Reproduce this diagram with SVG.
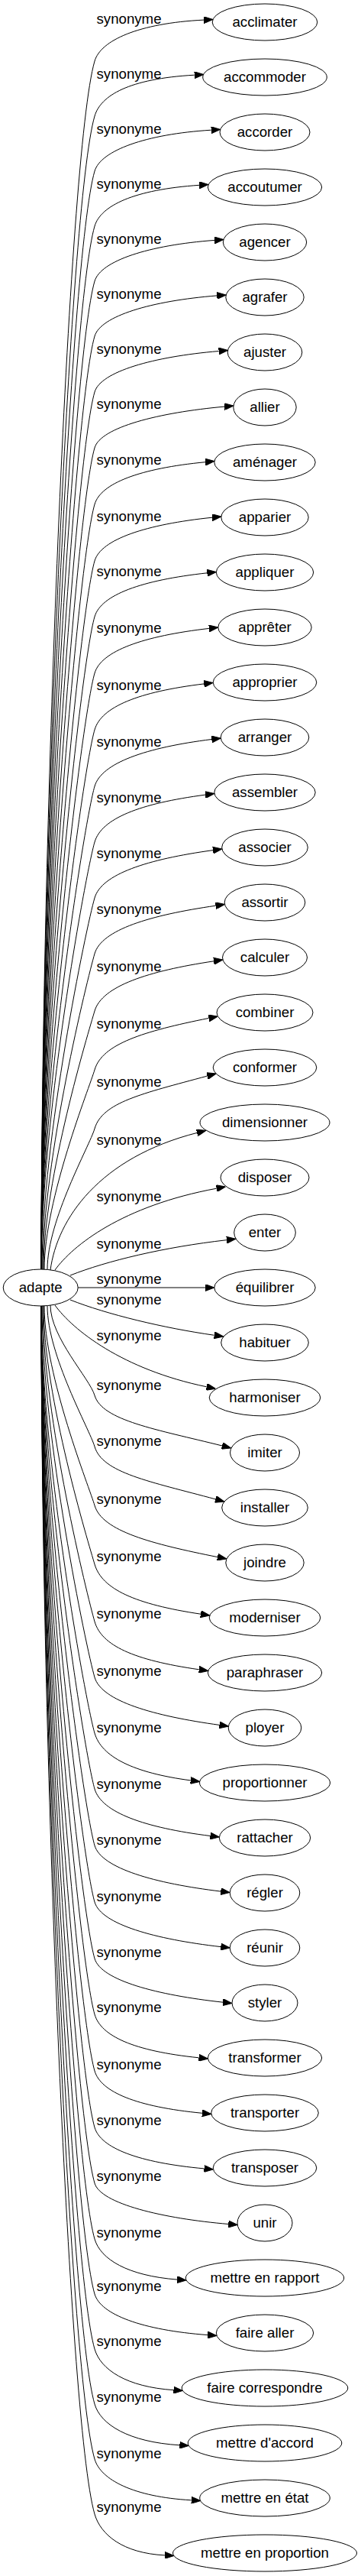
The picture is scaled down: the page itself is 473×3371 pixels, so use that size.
<svg xmlns="http://www.w3.org/2000/svg" width="473" height="3371" viewBox="0 0 473 3371">
<style>
.n ellipse{fill:none;stroke:#000;stroke-width:1}
text{font-family:"Liberation Sans",Arial,sans-serif;font-size:18.67px;fill:#000;text-anchor:middle}
.e path{fill:none;stroke:#000;stroke-width:1;marker-end:url(#ah)}
</style>
<defs>
<marker id="ah" markerUnits="userSpaceOnUse" viewBox="0 0 12 9" markerWidth="12" markerHeight="9" refX="0" refY="4.5" orient="auto"><path d="M0,0 L12,4.5 L0,9 Z" fill="#000" stroke="#000" stroke-width="1"/></marker>
</defs>
<rect width="473" height="3371" fill="#fff"/>
<g id="connectors" class="e">
<path d="M54,1661 C54,1107.6 89.1,200.2 124,80 C131.8,53 181.1,30.4 267.1,26.1"/>
<path d="M54,1661 C54,1132.8 90.7,266.7 124,152 C131.8,125.1 168.7,103 254.7,98.2"/>
<path d="M54,1661 C54,1158 92.3,333.2 124,224 C131.8,197.1 190.7,175.5 276.7,170.2"/>
<path d="M54,1661 C54,1183.2 93.9,399.7 124,296 C131.8,269.2 175.2,248.1 261.2,242.3"/>
<path d="M54,1661 C54,1208.4 95.5,466.3 124,368 C131.8,341.2 195,320.8 281,314.4"/>
<path d="M54,1661 C54,1233.6 97.1,532.8 124,440 C131.7,413.5 198.3,393.7 284.3,386.9"/>
<path d="M54,1661 C54,1259.2 98.7,600.2 124,513 C131.8,486.3 200.6,466.8 286.6,459.5"/>
<path d="M54,1661 C54,1284.7 100.3,667.7 124,586 C131.8,559.1 208,539.9 294,532.1"/>
<path d="M54,1661 C54,1310.6 101.9,736.1 124,660 C132,632.4 183,613 269,604.7"/>
<path d="M54,1661 C54,1336.5 103.6,804.5 124,734 C132.2,705.6 192,686.1 278,677.2"/>
<path d="M54,1661 C54,1362.1 105.2,871.9 124,807 C132.3,778.4 185.4,759.2 271.4,749.8"/>
<path d="M54,1661 C54,1388 106.8,940.3 124,881 C132.5,851.7 187.9,832.3 273.9,822.4"/>
<path d="M54,1661 C54,1413.9 108.4,1008.7 124,955 C132.7,925 181.3,905.3 267.3,894.9"/>
<path d="M54,1661 C54,1439.8 110.1,1077 124,1029 C132.9,998.3 191.3,978.3 277.3,967.5"/>
<path d="M54,1661 C54,1465.3 111.7,1144.5 124,1102 C133,1071 183,1051.5 269,1040.1"/>
<path d="M55,1661 C55,1490.9 113.3,1211.9 124,1175 C133,1143.8 193,1124.5 279,1112.6"/>
<path d="M56,1661 C56,1516.4 114.9,1279.4 124,1248 C133.1,1216.6 196.6,1197.6 282.6,1185.2"/>
<path d="M57,1661 C57,1542.7 116.5,1348.7 124,1323 C133.5,1290.4 194.1,1270.7 280.1,1257.8"/>
<path d="M58,1661 C58,1569.6 117.6,1422 124,1400 C133.8,1366.2 187.6,1349.6 273.6,1332.4"/>
<path d="M62,1661 C62,1596.6 117.6,1499 124,1477 C134,1442.6 185.5,1431.3 271.5,1408.1"/>
<path d="M66,1662 C75,1595 130,1515 258.2,1482.4"/>
<path d="M72,1662 C95,1630 160,1578 283.8,1555.2"/>
<path d="M92,1669 C140,1650 215,1632 296.9,1622.7"/>
<path d="M102.3,1685 L268.9,1685"/>
<path d="M92,1701 C140,1720 215,1738 280.8,1747.3"/>
<path d="M72,1708 C95,1740 160,1792 270.7,1814.8"/>
<path d="M66,1708 C66,1750 117.6,1804 124,1826 C133.6,1859 205.1,1870.5 291.1,1892"/>
<path d="M62,1709 C62,1773.4 117.6,1871 124,1893 C134,1927.5 196.4,1938.7 282.4,1961.9"/>
<path d="M58,1709 C58,1800.4 117.6,1948 124,1970 C133.8,2003.8 199.1,2020.4 285.1,2037.6"/>
<path d="M57,1709 C57,1827.3 116.5,2021.3 124,2047 C133.5,2079.6 177,2099.3 263,2112.2"/>
<path d="M56,1709 C56,1853.6 114.9,2090.6 124,2122 C133.1,2153.4 174.8,2172.4 260.8,2184.8"/>
<path d="M55,1709 C55,1879.1 113.3,2158.1 124,2195 C133,2226.2 201.5,2245.5 287.5,2257.4"/>
<path d="M54,1709 C54,1904.7 111.7,2225.5 124,2268 C133,2299 174.3,2319.9 249.8,2329.9"/>
<path d="M54,1709 C54,1930.2 110.1,2293 124,2341 C132.9,2371.8 189.4,2391.7 275.4,2402.5"/>
<path d="M54,1709 C54,1956.1 108.4,2361.3 124,2415 C132.7,2445 203.3,2464.7 289.3,2475.1"/>
<path d="M54,1709 C54,1982 106.8,2429.7 124,2489 C132.5,2518.3 203.3,2537.7 289.3,2547.6"/>
<path d="M54,1709 C54,2007.9 105.2,2498.1 124,2563 C132.3,2591.6 206.1,2610.8 292.1,2620.2"/>
<path d="M54,1709 C54,2033.5 103.6,2565.5 124,2636 C132.2,2664.4 174.5,2683.9 260.5,2692.8"/>
<path d="M54,1709 C54,2059.4 101.9,2633.9 124,2710 C132,2737.7 178.9,2757 264.9,2765.3"/>
<path d="M54,1709 C54,2085.3 100.3,2702.3 124,2784 C131.8,2811 181.5,2830.1 267.5,2837.9"/>
<path d="M54,1709 C54,2110.8 98.7,2769.8 124,2857 C131.8,2883.8 213.3,2903.2 299.3,2910.5"/>
<path d="M54,1709 C54,2136.4 97.1,2837.2 124,2930 C131.7,2956.6 167.2,2978 232.2,2983.1"/>
<path d="M54,1709 C54,2161.6 95.5,2903.7 124,3002 C131.8,3028.8 186.1,3049.2 272.1,3055.6"/>
<path d="M54,1709 C54,2186.8 93.9,2970.3 124,3074 C131.8,3100.9 165.5,3123.5 227.5,3127.7"/>
<path d="M54,1709 C54,2212 92.3,3036.8 124,3146 C131.8,3172.9 168.6,3195.7 235.4,3199.8"/>
<path d="M54,1709 C54,2237.2 90.7,3103.3 124,3218 C131.8,3244.9 174.7,3267.5 250.7,3271.8"/>
<path d="M54,1709 C54,2262.4 89.1,3169.8 124,3290 C131.8,3317 160.9,3341.1 215.9,3343.9"/>
</g>
<g id="edge-labels">
<text x="169" y="30.5">synonyme</text>
<text x="169" y="102.5">synonyme</text>
<text x="169" y="174.5">synonyme</text>
<text x="169" y="246.5">synonyme</text>
<text x="169" y="318.5">synonyme</text>
<text x="169" y="390.5">synonyme</text>
<text x="169" y="462.5">synonyme</text>
<text x="169" y="534.5">synonyme</text>
<text x="169" y="607.5">synonyme</text>
<text x="169" y="681.5">synonyme</text>
<text x="169" y="753.6">synonyme</text>
<text x="169" y="828">synonyme</text>
<text x="169" y="903">synonyme</text>
<text x="169" y="977">synonyme</text>
<text x="169" y="1050">synonyme</text>
<text x="169" y="1123">synonyme</text>
<text x="169" y="1196">synonyme</text>
<text x="169" y="1271">synonyme</text>
<text x="169" y="1346">synonyme</text>
<text x="169" y="1422">synonyme</text>
<text x="169" y="1498">synonyme</text>
<text x="169" y="1572">synonyme</text>
<text x="169" y="1634">synonyme</text>
<text x="169" y="1680">synonyme</text>
<text x="169" y="1707">synonyme</text>
<text x="169" y="1754">synonyme</text>
<text x="169" y="1819">synonyme</text>
<text x="169" y="1892">synonyme</text>
<text x="169" y="1967.5">synonyme</text>
<text x="169" y="2043">synonyme</text>
<text x="169" y="2118">synonyme</text>
<text x="169" y="2193">synonyme</text>
<text x="169" y="2267">synonyme</text>
<text x="169" y="2341">synonyme</text>
<text x="169" y="2413.5">synonyme</text>
<text x="169" y="2487.5">synonyme</text>
<text x="169" y="2560.7">synonyme</text>
<text x="169" y="2632.5">synonyme</text>
<text x="169" y="2707.6">synonyme</text>
<text x="169" y="2780.8">synonyme</text>
<text x="169" y="2853.7">synonyme</text>
<text x="169" y="2927.6">synonyme</text>
<text x="169" y="2998">synonyme</text>
<text x="169" y="3070">synonyme</text>
<text x="169" y="3143">synonyme</text>
<text x="169" y="3217">synonyme</text>
<text x="169" y="3287">synonyme</text>
</g>
<g id="node-adapte" class="n"><ellipse cx="53.2" cy="1685" rx="49" ry="24"/><text x="53.2" y="1690.7">adapte</text></g>
<g id="node-acclimater" class="n"><ellipse cx="347" cy="29" rx="68.8" ry="24"/><text x="347" y="34.5">acclimater</text></g>
<g id="node-accommoder" class="n"><ellipse cx="347" cy="101" rx="81.3" ry="24"/><text x="347" y="106.5">accommoder</text></g>
<g id="node-accorder" class="n"><ellipse cx="347" cy="173" rx="59" ry="24"/><text x="347" y="178.5">accorder</text></g>
<g id="node-accoutumer" class="n"><ellipse cx="347" cy="245" rx="74.7" ry="24"/><text x="347" y="250.5">accoutumer</text></g>
<g id="node-agencer" class="n"><ellipse cx="347" cy="317" rx="54.7" ry="24"/><text x="347" y="322.5">agencer</text></g>
<g id="node-agrafer" class="n"><ellipse cx="347" cy="389" rx="51.2" ry="24"/><text x="347" y="394.5">agrafer</text></g>
<g id="node-ajuster" class="n"><ellipse cx="347" cy="461" rx="48.8" ry="24"/><text x="347" y="466.5">ajuster</text></g>
<g id="node-allier" class="n"><ellipse cx="347" cy="533" rx="41.2" ry="24"/><text x="347" y="538.5">allier</text></g>
<g id="node-amenager" class="n"><ellipse cx="347" cy="605" rx="66.2" ry="24"/><text x="347" y="610.5">aménager</text></g>
<g id="node-apparier" class="n"><ellipse cx="347" cy="677" rx="57.2" ry="24"/><text x="347" y="682.5">apparier</text></g>
<g id="node-appliquer" class="n"><ellipse cx="347" cy="749" rx="63.7" ry="24"/><text x="347" y="754.5">appliquer</text></g>
<g id="node-appreter" class="n"><ellipse cx="347" cy="821" rx="61.2" ry="24"/><text x="347" y="826.5">apprêter</text></g>
<g id="node-approprier" class="n"><ellipse cx="347" cy="893" rx="67.8" ry="24"/><text x="347" y="898.5">approprier</text></g>
<g id="node-arranger" class="n"><ellipse cx="347" cy="965" rx="57.8" ry="24"/><text x="347" y="970.5">arranger</text></g>
<g id="node-assembler" class="n"><ellipse cx="347" cy="1037" rx="66.2" ry="24"/><text x="347" y="1042.5">assembler</text></g>
<g id="node-associer" class="n"><ellipse cx="347" cy="1109" rx="56.3" ry="24"/><text x="347" y="1114.5">associer</text></g>
<g id="node-assortir" class="n"><ellipse cx="347" cy="1181" rx="52.8" ry="24"/><text x="347" y="1186.5">assortir</text></g>
<g id="node-calculer" class="n"><ellipse cx="347" cy="1253" rx="55.5" ry="24"/><text x="347" y="1258.5">calculer</text></g>
<g id="node-combiner" class="n"><ellipse cx="347" cy="1325" rx="63" ry="24"/><text x="347" y="1330.5">combiner</text></g>
<g id="node-conformer" class="n"><ellipse cx="347" cy="1397" rx="67.8" ry="24"/><text x="347" y="1402.5">conformer</text></g>
<g id="node-dimensionner" class="n"><ellipse cx="347" cy="1469" rx="85" ry="24"/><text x="347" y="1474.5">dimensionner</text></g>
<g id="node-disposer" class="n"><ellipse cx="347" cy="1541" rx="58" ry="24"/><text x="347" y="1546.5">disposer</text></g>
<g id="node-enter" class="n"><ellipse cx="347" cy="1613" rx="40.3" ry="24"/><text x="347" y="1618.5">enter</text></g>
<g id="node-equilibrer" class="n"><ellipse cx="347" cy="1685" rx="66.2" ry="24"/><text x="347" y="1690.5">équilibrer</text></g>
<g id="node-habituer" class="n"><ellipse cx="347" cy="1757" rx="57.3" ry="24"/><text x="347" y="1762.5">habituer</text></g>
<g id="node-harmoniser" class="n"><ellipse cx="347" cy="1829" rx="72.8" ry="24"/><text x="347" y="1834.5">harmoniser</text></g>
<g id="node-imiter" class="n"><ellipse cx="347" cy="1901" rx="45.5" ry="24"/><text x="347" y="1906.5">imiter</text></g>
<g id="node-installer" class="n"><ellipse cx="347" cy="1973" rx="56.3" ry="24"/><text x="347" y="1978.5">installer</text></g>
<g id="node-joindre" class="n"><ellipse cx="347" cy="2045" rx="51.2" ry="24"/><text x="347" y="2050.5">joindre</text></g>
<g id="node-moderniser" class="n"><ellipse cx="347" cy="2117" rx="72.8" ry="24"/><text x="347" y="2122.5">moderniser</text></g>
<g id="node-paraphraser" class="n"><ellipse cx="347" cy="2189" rx="74.7" ry="24"/><text x="347" y="2194.5">paraphraser</text></g>
<g id="node-ployer" class="n"><ellipse cx="347" cy="2261" rx="47.8" ry="24"/><text x="347" y="2266.5">ployer</text></g>
<g id="node-proportionner" class="n"><ellipse cx="347" cy="2333" rx="85.5" ry="24"/><text x="347" y="2338.5">proportionner</text></g>
<g id="node-rattacher" class="n"><ellipse cx="347" cy="2405" rx="59.7" ry="24"/><text x="347" y="2410.5">rattacher</text></g>
<g id="node-regler" class="n"><ellipse cx="347" cy="2477" rx="45.8" ry="24"/><text x="347" y="2482.5">régler</text></g>
<g id="node-reunir" class="n"><ellipse cx="347" cy="2549" rx="45.8" ry="24"/><text x="347" y="2554.5">réunir</text></g>
<g id="node-styler" class="n"><ellipse cx="347" cy="2621" rx="43" ry="24"/><text x="347" y="2626.5">styler</text></g>
<g id="node-transformer" class="n"><ellipse cx="347" cy="2693" rx="74.7" ry="24"/><text x="347" y="2698.5">transformer</text></g>
<g id="node-transporter" class="n"><ellipse cx="347" cy="2765" rx="70.3" ry="24"/><text x="347" y="2770.5">transporter</text></g>
<g id="node-transposer" class="n"><ellipse cx="347" cy="2837" rx="67.8" ry="24"/><text x="347" y="2842.5">transposer</text></g>
<g id="node-unir" class="n"><ellipse cx="347" cy="2909" rx="36" ry="24"/><text x="347" y="2914.5">unir</text></g>
<g id="node-mettre-en-rapport" class="n"><ellipse cx="347" cy="2981" rx="103.7" ry="24"/><text x="347" y="2986.5">mettre en rapport</text></g>
<g id="node-faire-aller" class="n"><ellipse cx="347" cy="3053" rx="63.7" ry="24"/><text x="347" y="3058.5">faire aller</text></g>
<g id="node-faire-correspondre" class="n"><ellipse cx="347" cy="3125" rx="108.8" ry="24"/><text x="347" y="3130.5">faire correspondre</text></g>
<g id="node-mettre-d-accord" class="n"><ellipse cx="347" cy="3197" rx="100.8" ry="24"/><text x="347" y="3202.5">mettre d'accord</text></g>
<g id="node-mettre-en-etat" class="n"><ellipse cx="347" cy="3269" rx="85.3" ry="24"/><text x="347" y="3274.5">mettre en état</text></g>
<g id="node-mettre-en-proportion" class="n"><ellipse cx="347" cy="3341" rx="120.5" ry="24"/><text x="347" y="3346.5">mettre en proportion</text></g>
</svg>
